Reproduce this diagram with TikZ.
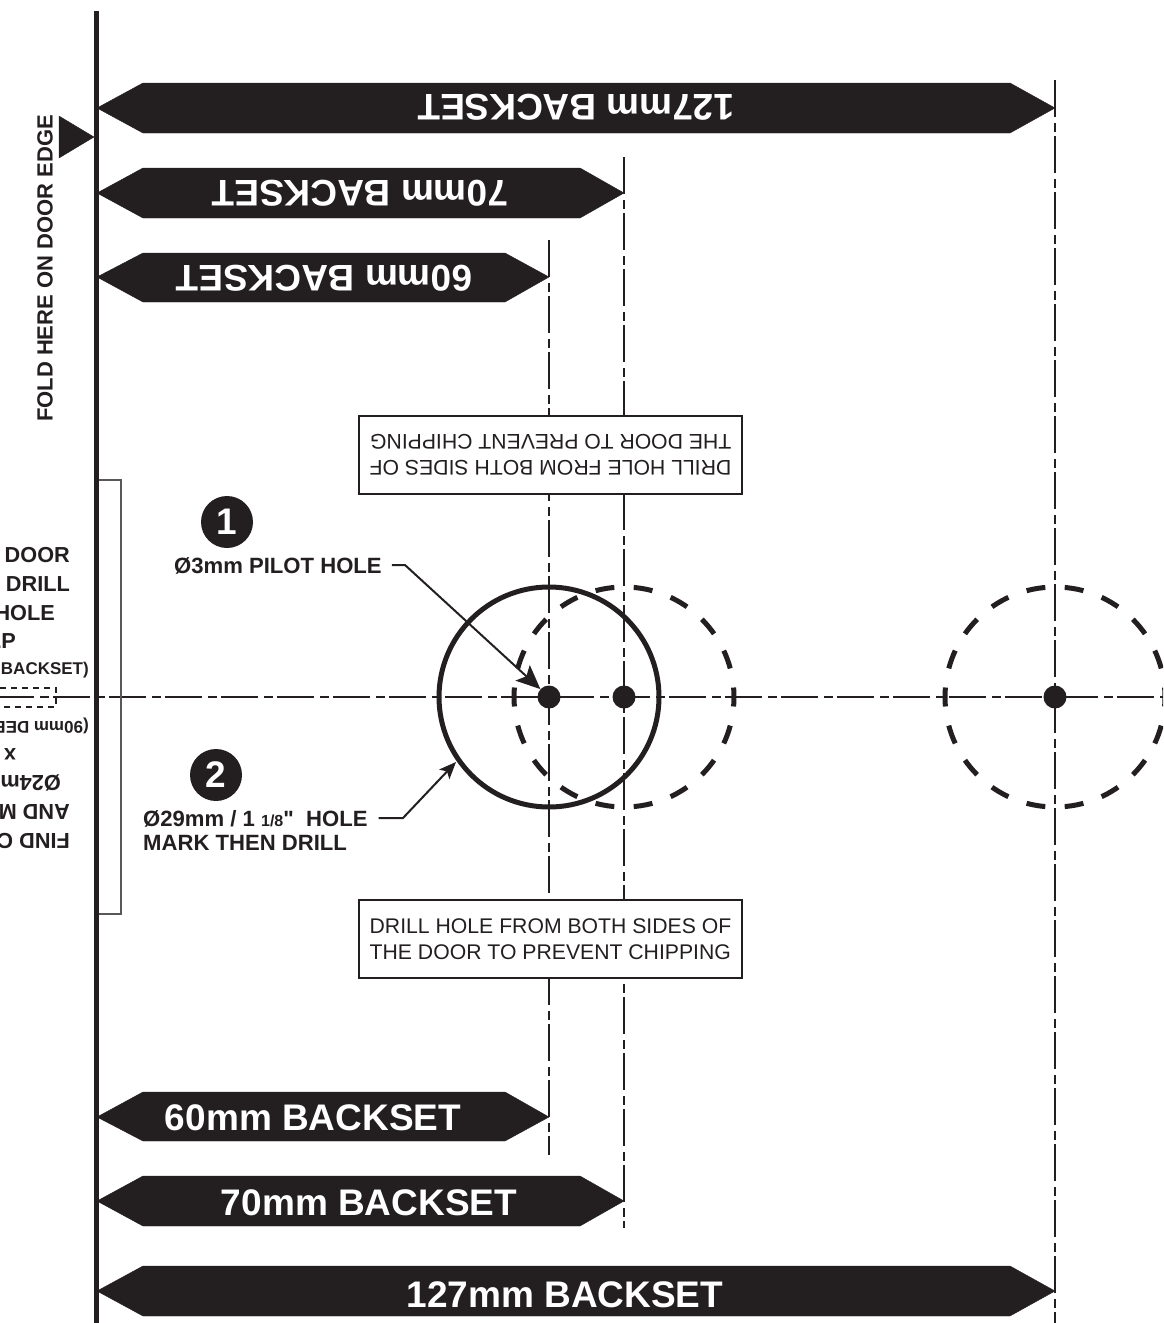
\documentclass[tikz,border=0pt]{standalone}
\usepackage{fontspec}
\setmainfont{Liberation Sans}[Ligatures=TeXOff]
\usetikzlibrary{arrows.meta}
\definecolor{inkblack}{HTML}{231F20}
\newcommand{\boldsize}{\fontsize{22.1}{22.1}\selectfont\bfseries}
\newcommand{\bannersize}{\fontsize{37}{37}\selectfont\bfseries}
\newcommand{\boxsize}{\fontsize{21.2}{25.5}\selectfont}
\tikzset{
    banner/.style={fill=inkblack, draw=inkblack},
    bannertext/.style={text=white, inner sep=0pt, font=\bannersize},
    centreline/.style={draw=inkblack, line width=2.7pt, dash pattern=on 37pt off 6pt on 9pt off 4pt},
    dashedhole/.style={draw=inkblack, line width=5pt, dash pattern=on 19pt off 19.4pt, dash phase=9.5pt},
    notebox/.style={draw=inkblack, fill=white, line width=2pt, minimum width=383pt, minimum height=78pt, inner sep=0pt, align=left, font=\boxsize, text=inkblack},
    holedot/.style={circle, fill=inkblack, minimum size=23pt, inner sep=0pt},
    stepnumber/.style={circle, fill=inkblack, text=white, minimum size=52pt, inner sep=0pt, font=\bannersize},
    holelabel/.style={inner sep=0pt, text=inkblack, font=\boldsize},
    foldtext/.style={inner sep=0pt, text=inkblack, font=\fontsize{21.7}{21.7}\selectfont\bfseries},
    leader/.style={draw=inkblack, line width=2pt, -{Stealth[length=24pt, width=21pt, inset=5pt]}}
}
\begin{document}
\begin{tikzpicture}[x=1pt, y=-1pt]
    \useasboundingbox (0,0) rectangle (1163,1323);
    \clip (0,0) rectangle (1163,1323);

    % centre lines
    \draw [centreline] (-3,697)--(1163,697);
    \draw [centreline] (549,240)--(549,1155);
    \draw [centreline] (624,157)--(624,1228);
    \draw [centreline] (1055,80)--(1055,1323);

    % door edge and strike plate outline
    \draw [draw=inkblack!75, line width=1.2pt] (96,480) rectangle (121,914);
    \draw [draw=inkblack, line width=5pt] (96,11)--(96,1323);
    \draw [fill=inkblack, draw=inkblack] (59,116)--(94,137)--(59,158)--cycle;
    \node [foldtext, rotate=90, font=\fontsize{22}{22}\selectfont\bfseries] (foldlabel) at (45,268.5) {FOLD HERE ON DOOR EDGE};

    % top banners
    \draw [banner] (97,108)--(143,83)--(1010,83)--(1055,108)--(1010,133)--(143,133)--cycle;
    \draw [banner] (97,193)--(143,168)--(580,168)--(624,193)--(580,218)--(143,218)--cycle;
    \draw [banner] (97,277)--(143,253)--(505,253)--(549,277)--(505,302)--(143,302)--cycle;
    \node [bannertext, rotate=180] (topbanner127) at (576,107) {127mm BACKSET};
    \node [bannertext, rotate=180] (topbanner70) at (360,193) {70mm BACKSET};
    \node [bannertext, rotate=180] (topbanner60) at (324,278) {60mm BACKSET};

    % bottom banners
    \draw [banner] (97,1117)--(143,1092)--(505,1092)--(549,1117)--(505,1141)--(143,1141)--cycle;
    \draw [banner] (97,1201)--(143,1176)--(580,1176)--(624,1201)--(580,1226)--(143,1226)--cycle;
    \draw [banner] (97,1291)--(143,1266)--(1010,1266)--(1055,1291)--(1010,1316)--(143,1316)--cycle;
    \node [bannertext] (bottombanner60) at (313,1118) {60mm BACKSET};
    \node [bannertext] (bottombanner70) at (369,1203) {70mm BACKSET};
    \node [bannertext] (bottombanner127) at (565,1295) {127mm BACKSET};

    % note boxes
    \node [notebox, rotate=180] (topnote) at (550.5,455) {DRILL HOLE FROM BOTH SIDES OF\\THE DOOR TO PREVENT CHIPPING};
    \node [notebox] (bottomnote) at (550.5,939) {DRILL HOLE FROM BOTH SIDES OF\\THE DOOR TO PREVENT CHIPPING};

    % holes
    \draw [dashedhole] (624,697) circle (110);
    \draw [dashedhole] (1055,697) circle (110);
    \draw [draw=inkblack, line width=5pt] (549,697) circle (110);
    \node [holedot] (pilotdot) at (549,697) {};
    \node [holedot] (dot70) at (624,697) {};
    \node [holedot] (dot127) at (1055,697) {};

    % step labels
    \node [stepnumber] (stepone) at (227,522) {1};
    \node [stepnumber] (steptwo) at (216,775) {2};
    \node [holelabel, anchor=west] (pilotlabel) at (174,566) {Ø3mm PILOT HOLE};
    \node [holelabel, anchor=west] (holelabel) at (143,819) {Ø29mm / 1 {\fontsize{16}{16}\selectfont 1/8}"\ \ HOLE};
    \node [holelabel, anchor=west] (marklabel) at (143,843) {MARK THEN DRILL};
    \coordinate (pilotbend) at (405,565);
    \coordinate (holebend) at (403,818);
    \coordinate (holeedge) at (456,762);
    \draw [leader] ([xshift=10pt, yshift=1pt]pilotlabel.east)--(pilotbend)--(pilotdot);
    \draw [leader, -{Stealth[length=17pt, width=14pt, inset=4pt]}] ([xshift=11pt, yshift=1pt]holelabel.east)--(holebend)--(holeedge);

    % door instructions running off the page
    \draw [draw=inkblack, line width=1.4pt, dash pattern=on 6pt off 5pt] (0,688)--(56,688)--(56,707)--(0,707);
    \node [foldtext, anchor=east] (lineone) at (70,555) {DOOR};
    \node [foldtext, anchor=east] (linetwo) at (70,584) {DRILL};
    \node [foldtext, anchor=east] (linethree) at (55,613) {HOLE};
    \node [foldtext, anchor=east] (linefour) at (16,641) {DEEP};
    \node [foldtext, anchor=east, font=\fontsize{17}{17}\selectfont\bfseries] (linefive) at (89,670) {BACKSET)};
    \node [foldtext, anchor=west, rotate=180, font=\fontsize{17}{17}\selectfont\bfseries] (flipfive) at (89,726) {(90mm DEEP};
    \node [foldtext, rotate=180] (flipfour) at (10,754) {x};
    \node [foldtext, anchor=west, rotate=180] (flipthree) at (61,783) {Ø24mm};
    \node [foldtext, anchor=west, rotate=180] (fliptwo) at (70,812) {AND MARK};
    \node [foldtext, anchor=west, rotate=180] (flipone) at (70,841) {FIND CENTRE};
\end{tikzpicture}
\end{document}
